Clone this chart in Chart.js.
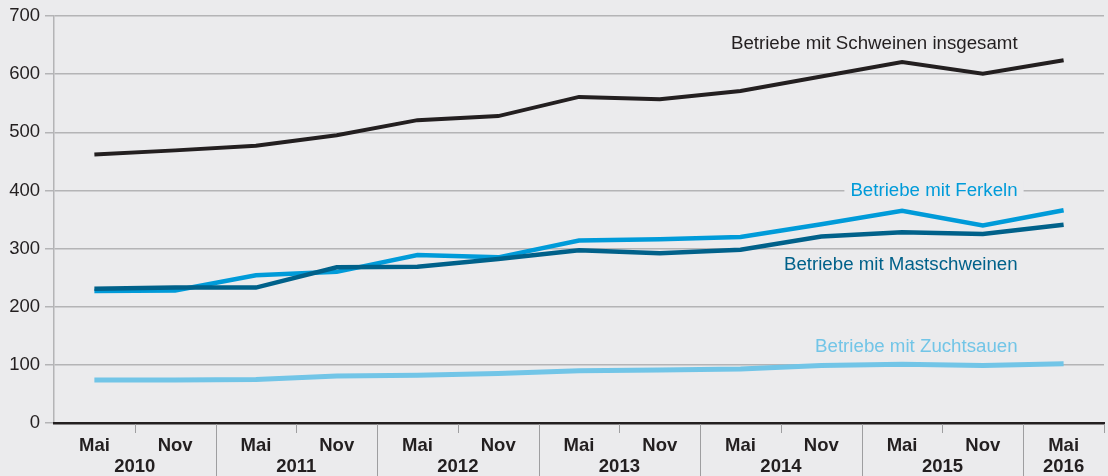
<!DOCTYPE html>
<html>
<head>
<meta charset="utf-8">
<script src="https://cdn.jsdelivr.net/npm/chart.js@4/dist/chart.umd.min.js"></script>
<style>
  html, body { margin: 0; padding: 0; background: #ebebed; }
  #wrap { width: 1108px; height: 476px; position: relative; }
</style>
</head>
<body>
<div id="wrap"><canvas id="chart"></canvas></div>
<script>
// Halbjahres-Stichtage Mai 2010 bis Mai 2016
const months = ['Mai', 'Nov', 'Mai', 'Nov', 'Mai', 'Nov', 'Mai', 'Nov', 'Mai', 'Nov', 'Mai', 'Nov', 'Mai'];
const years = ['2010', '2011', '2012', '2013', '2014', '2015', '2016'];
const yTicks = [0, 100, 200, 300, 400, 500, 600, 700];

const schweineGesamt = [462, 469, 477, 495, 521, 528, 561, 557, 571, 596, 621, 601, 624];
const ferkel = [227, 228, 254, 260, 289, 285, 314, 316, 320, 342, 365, 340, 366];
const mastschweine = [231, 233, 233, 268, 269, 282, 297, 292, 298, 321, 328, 325, 341];
const zuchtsauen = [74, 74, 75, 81, 82, 85, 90, 91, 93, 99, 101, 99, 102];

const seriesNames = [
  'Betriebe mit Schweinen insgesamt',
  'Betriebe mit Ferkeln',
  'Betriebe mit Mastschweinen',
  'Betriebe mit Zuchtsauen'
];

const TEXT = '#231f20';
const GRID = '#b4b4b6';
const BG = '#ebebed';
const colors = ['#231f20', '#009bd9', '#00618a', '#72c5e7'];
const FONT = '"Liberation Sans", Arial, Helvetica, sans-serif';

// Beschriftungen der Linien direkt im Diagramm
const lineLabels = {
  id: 'lineLabels',
  afterDatasetsDraw(chart) {
    const { ctx, scales } = chart;
    const x = scales.x, y = scales.y;
    const right = x.getPixelForValue(12) - 46;
    const spots = [652, 400, 272, 131];
    ctx.save();
    ctx.font = '18.7px ' + FONT;
    ctx.textAlign = 'right';
    ctx.textBaseline = 'middle';
    seriesNames.forEach((name, i) => {
      const py = y.getPixelForValue(spots[i]);
      if (i === 1) {
        // Gitterlinie hinter dem Text aussparen
        const w = ctx.measureText(name).width;
        ctx.fillStyle = BG;
        ctx.fillRect(right - w - 6, py - 10, w + 12, 20);
      }
      ctx.fillStyle = colors[i];
      ctx.fillText(name, right, py);
    });
    ctx.restore();
  }
};

// Jahresbeschriftung und Trennstriche unter der x-Achse
const yearAxis = {
  id: 'yearAxis',
  afterDraw(chart) {
    const { ctx, scales } = chart;
    const x = scales.x;
    const base = chart.chartArea.bottom;
    const half = (x.getPixelForValue(1) - x.getPixelForValue(0)) / 2;
    ctx.save();
    ctx.strokeStyle = '#9e9ea0';
    ctx.lineWidth = 1;
    for (let i = 0; i < months.length; i++) {
      const px = x.getPixelForValue(i) + half;
      const full = i % 2 === 1 && i < months.length - 1;
      ctx.beginPath();
      ctx.moveTo(Math.round(px) + 0.5, base + 1);
      ctx.lineTo(Math.round(px) + 0.5, full ? chart.height : base + 10);
      ctx.stroke();
    }
    ctx.fillStyle = TEXT;
    ctx.font = 'bold 18.5px ' + FONT;
    ctx.textAlign = 'center';
    ctx.textBaseline = 'alphabetic';
    years.forEach((yr, k) => {
      const i = k * 2;
      const px = i + 1 < months.length
        ? (x.getPixelForValue(i) + x.getPixelForValue(i + 1)) / 2
        : x.getPixelForValue(i);
      ctx.fillText(yr, px, 472);
    });
    ctx.restore();
  }
};

const mk = (data, i, width) => ({
  label: seriesNames[i],
  data: data,
  borderColor: colors[i],
  backgroundColor: colors[i],
  borderWidth: width,
  pointRadius: 0,
  tension: 0,
  fill: false
});

new Chart(document.getElementById('chart'), {
  type: 'line',
  data: {
    labels: months,
    datasets: [
      mk(schweineGesamt, 0, 4),
      mk(zuchtsauen, 3, 5),
      mk(mastschweine, 2, 4.5),
      mk(ferkel, 1, 4.5)
    ]
  },
  options: {
    responsive: true,
    maintainAspectRatio: false,
    animation: false,
    layout: { padding: { top: 7, right: 4, left: 0, bottom: 0 } },
    plugins: {
      legend: { display: false },
      tooltip: { enabled: false }
    },
    scales: {
      x: {
        type: 'category',
        offset: true,
        grid: { display: false },
        border: { display: true, color: TEXT, width: 2.5, z: 1 },
        ticks: {
          color: TEXT,
          font: { family: FONT, size: 18.5, weight: 'bold' },
          padding: 4,
          maxRotation: 0,
          autoSkip: false
        },
        afterFit(scale) { scale.height = 53; }
      },
      y: {
        min: 0,
        max: 700,
        afterBuildTicks(scale) { scale.ticks = yTicks.map(v => ({ value: v })); },
        grid: { color: GRID, lineWidth: 1.5, tickLength: 9, drawTicks: true },
        border: { display: true, color: GRID, width: 1.5 },
        ticks: {
          color: TEXT,
          font: { family: FONT, size: 18.5 },
          padding: 5
        },
        afterFit(scale) { scale.width = 54; }
      }
    }
  },
  plugins: [lineLabels, yearAxis]
});
</script>
</body>
</html>
